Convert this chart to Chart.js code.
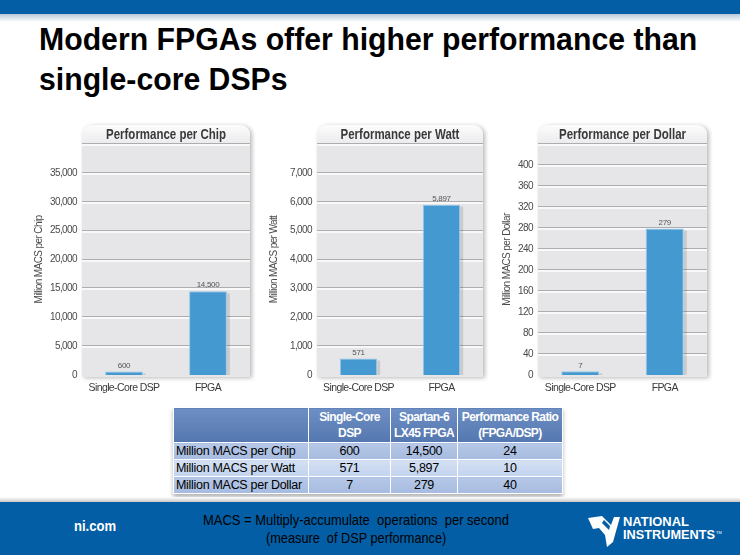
<!DOCTYPE html>
<html>
<head>
<meta charset="utf-8">
<script src="https://cdn.jsdelivr.net/npm/chart.js@4.4.0/dist/chart.umd.min.js"></script>
<style>
body{margin:0;width:740px;height:555px;overflow:hidden;background:#fff;position:relative;
  font-family:'Liberation Sans',Arial,sans-serif;}
#topband{position:absolute;left:0;top:0;width:740px;height:14px;background:#035ea5;}
#topfade{position:absolute;left:0;top:14px;width:740px;height:8px;background:linear-gradient(#b8c8d8,#fff);}
.line{position:absolute;white-space:nowrap;transform-origin:left top;}
.tl{left:39px;font-size:31px;line-height:40px;font-weight:bold;color:#000;}
canvas{position:absolute;}
#tbl{position:absolute;left:173px;top:407px;width:389px;table-layout:fixed;border-collapse:collapse;font-size:12.5px;color:#000;
  letter-spacing:-0.3px;box-shadow:0 3px 4px rgba(0,0,0,0.3);}
#tbl td,#tbl th{border:1px solid #fff;padding:0 2px;height:16px;line-height:16px;white-space:nowrap;overflow:hidden;}
#tbl th{background:linear-gradient(#6d8fc4,#5577b0);color:#fff;font-weight:bold;font-size:12px;letter-spacing:-0.6px;height:34px;line-height:16px;text-align:center;}
#tbl td{text-align:center;}
#tbl td.lab{text-align:left;}
#tbl tr.odd td{background:linear-gradient(#b6c8e8,#a6bbe0);}
#tbl tr.even td{background:linear-gradient(#d4e0f3,#c2d3ee);}
#footline{position:absolute;left:0;top:497px;width:740px;height:5px;background:linear-gradient(#fff,#c8c8c8);}
#footer{position:absolute;left:0;top:502px;width:740px;height:53px;background:#035ea5;}
#nicom{left:74px;top:517px;color:#fff;font-weight:bold;font-size:14px;line-height:18px;}
.note{font-size:15px;line-height:18px;color:#000;}
#logo{position:absolute;left:586px;top:511px;}
</style>
</head>
<body>
<div id="topband"></div><div id="topfade"></div>
<div id="t1" class="line tl" style="top:20px">Modern FPGAs offer higher performance than</div>
<div id="t2" class="line tl" style="top:60px">single-core DSPs</div>

<canvas id="c1" width="230" height="280" style="left:30px;top:120px"></canvas>
<canvas id="c2" width="230" height="280" style="left:265px;top:120px"></canvas>
<canvas id="c3" width="230" height="280" style="left:490px;top:120px"></canvas>

<table id="tbl"></table>

<div id="footline"></div>
<div id="footer"></div>
<div id="nicom" class="line">ni.com</div>
<div id="n1" class="line note" style="left:203px;top:511px">MACS = Multiply-accumulate &nbsp;operations &nbsp;per second</div>
<div id="n2" class="line note" style="left:266px;top:529px">(measure &nbsp;of DSP performance)</div>
<svg id="logo" width="136" height="38" viewBox="0 0 136 38">
  <path d="M2 7 L16 5 L25 14 L28 6 L34 6 L27 31 L21 36 L19 24 L13 17 L7 18 Z" fill="#fff"/>
  <path d="M18 9 L24 15 L23 19 L16 12 Z" fill="#035ea5"/>
  <text x="37" y="15" fill="#fff" font-family="Liberation Sans, Arial, sans-serif" font-weight="bold" font-size="13" textLength="66" lengthAdjust="spacingAndGlyphs">NATIONAL</text>
  <text x="37" y="28" fill="#fff" font-family="Liberation Sans, Arial, sans-serif" font-weight="bold" font-size="13" textLength="92" lengthAdjust="spacingAndGlyphs">INSTRUMENTS</text>
  <text x="130" y="23" fill="#fff" font-family="Liberation Sans, Arial, sans-serif" font-size="4">TM</text>
</svg>

<script>
const categories = ['Single-Core DSP', 'FPGA'];
const chipValues = [600, 14500];
const wattValues = [571, 5897];
const dollarValues = [7, 279];
const ratioValues = [24, 10, 40];
const chartTitles = ['Performance per Chip', 'Performance per Watt', 'Performance per Dollar'];
const axisTitles = ['Million MACS per Chip', 'Million MACS per Watt', 'Million MACS per Dollar'];
const axisMax = [40000, 8000, 440];
const axisStep = [5000, 1000, 40];
const tableHead = ['', 'Single-Core<br>DSP', 'Spartan-6<br>LX45 FPGA', 'Performance Ratio<br>(FPGA/DSP)'];
const tableRows = ['Million MACS per Chip', 'Million MACS per Watt', 'Million MACS per Dollar'];

const FONT = "'Liberation Sans',Arial,sans-serif";
const fmt = v => v.toLocaleString('en-US');

// squeeze html text lines to the narrow look of the slide
function squeeze(el, w) {
  el.style.transform = 'scaleX(' + (w / el.scrollWidth) + ')';
}
const k = 658 / document.getElementById('t1').scrollWidth;
['t1', 't2'].forEach(id => { document.getElementById(id).style.transform = 'scaleX(' + k + ')'; });
squeeze(document.getElementById('nicom'), 42);
squeeze(document.getElementById('n1'), 306);
squeeze(document.getElementById('n2'), 180);

// gray panel with rounded header, gridlines and value labels
const panelPlugin = {
  id: 'panel',
  beforeDraw(chart) {
    chart.ctx.letterSpacing = '-0.6px';
  },
  beforeDatasetsDraw(chart, args, opts) {
    const ctx = chart.ctx, a = chart.chartArea;
    const top = a.top - 19;
    ctx.save();
    ctx.letterSpacing = '0px';
    ctx.shadowColor = 'rgba(0,0,0,0.28)';
    ctx.shadowBlur = 4; ctx.shadowOffsetX = 2; ctx.shadowOffsetY = 1;
    ctx.beginPath();
    ctx.roundRect(a.left, top, a.width, a.bottom + 2 - top, [9, 9, 0, 0]);
    ctx.fillStyle = '#e6e6e8';
    ctx.fill();
    ctx.restore();

    ctx.save();
    ctx.letterSpacing = '0px';
    ctx.beginPath();
    ctx.roundRect(a.left, top, a.width, a.top - top, [9, 9, 0, 0]);
    const g = ctx.createLinearGradient(0, top, 0, a.top);
    g.addColorStop(0, '#fcfcfc');
    g.addColorStop(1, '#ebebed');
    ctx.fillStyle = g;
    ctx.fill();

    ctx.save();
    ctx.fillStyle = '#3a3a3a';
    ctx.font = 'bold 14px ' + FONT;
    ctx.textAlign = 'center';
    ctx.textBaseline = 'middle';
    ctx.translate((a.left + a.right) / 2, (top + a.top) / 2 + 1);
    ctx.scale(0.82, 1);
    ctx.fillText(opts.text, 0, 0);
    ctx.restore();

    const y = chart.scales.y;
    y.ticks.forEach(t => {
      if (t.value === 0) return;
      const py = Math.round(y.getPixelForValue(t.value));
      ctx.fillStyle = '#adadb0';
      ctx.fillRect(a.left, py - 1, a.width, 1.2);
      ctx.fillStyle = '#ffffff';
      ctx.fillRect(a.left, py + 0.2, a.width, 1.5);
    });

    chart.getDatasetMeta(0).data.forEach(bar => {
      ctx.fillStyle = 'rgba(0,0,0,0.12)';
      ctx.fillRect(bar.x + bar.width / 2, bar.y + 2, 3, bar.base - bar.y - 2);
    });
    ctx.restore();
  },
  afterDatasetsDraw(chart) {
    const ctx = chart.ctx;
    const ds = chart.data.datasets[0];
    ctx.save();
    ctx.letterSpacing = '-0.3px';
    ctx.fillStyle = '#555';
    ctx.font = '8px ' + FONT;
    ctx.textAlign = 'center';
    ctx.textBaseline = 'bottom';
    chart.getDatasetMeta(0).data.forEach((bar, i) => {
      ctx.fillText(fmt(ds.data[i]), bar.x, bar.y - 2);
    });
    ctx.restore();
  }
};

function makeChart(id, i, values, axisW, padRight, titlePad) {
  new Chart(document.getElementById(id), {
    type: 'bar',
    data: {
      labels: categories,
      datasets: [{
        data: values,
        backgroundColor: '#4499d1',
        borderColor: '#92c6e8',
        borderWidth: 1,
        barPercentage: 0.9,
        categoryPercentage: 0.5
      }]
    },
    plugins: [panelPlugin],
    options: {
      responsive: false,
      animation: false,
      layout: { padding: { top: 24, right: padRight, left: 0, bottom: 0 } },
      plugins: {
        legend: { display: false },
        tooltip: { enabled: false },
        panel: { text: chartTitles[i] }
      },
      scales: {
        x: {
          grid: { display: false, drawTicks: false },
          border: { display: false },
          ticks: { color: '#3a3a3a', font: { size: 10.5, family: FONT }, padding: 7,
                   maxRotation: 0, minRotation: 0, autoSkip: false },
          afterFit: s => { s.height = 25; }
        },
        y: {
          min: 0,
          max: axisMax[i],
          grid: { display: false, drawTicks: false },
          border: { display: false },
          ticks: {
            stepSize: axisStep[i],
            color: '#4a4a4a',
            padding: 5,
            font: { size: 10, family: FONT },
            callback: v => v === axisMax[i] ? '' : fmt(v)
          },
          title: {
            display: true,
            text: axisTitles[i],
            color: '#4a4a4a',
            font: { size: 10, family: FONT },
            padding: { top: titlePad, bottom: 0 }
          },
          afterFit: s => { s.width = axisW; }
        }
      }
    }
  });
}

makeChart('c1', 0, chipValues, 52, 10, 3);
makeChart('c2', 1, wattValues, 52, 12, 3);
makeChart('c3', 2, dollarValues, 48, 13, 11);

// table below the charts
const cols = [chipValues, wattValues, dollarValues];
const widths = [135, 82, 67, 105];
let html = '<colgroup>' + widths.map(w => '<col style="width:' + w + 'px">').join('') + '</colgroup>';
html += '<tr>' + tableHead.map(h => '<th>' + h + '</th>').join('') + '</tr>';
tableRows.forEach((r, j) => {
  html += '<tr class="' + (j % 2 ? 'even' : 'odd') + '"><td class="lab">' + r + '</td><td>' + fmt(cols[j][0]) +
    '</td><td>' + fmt(cols[j][1]) + '</td><td>' + ratioValues[j] + '</td></tr>';
});
document.getElementById('tbl').innerHTML = html;
</script>
</body>
</html>
